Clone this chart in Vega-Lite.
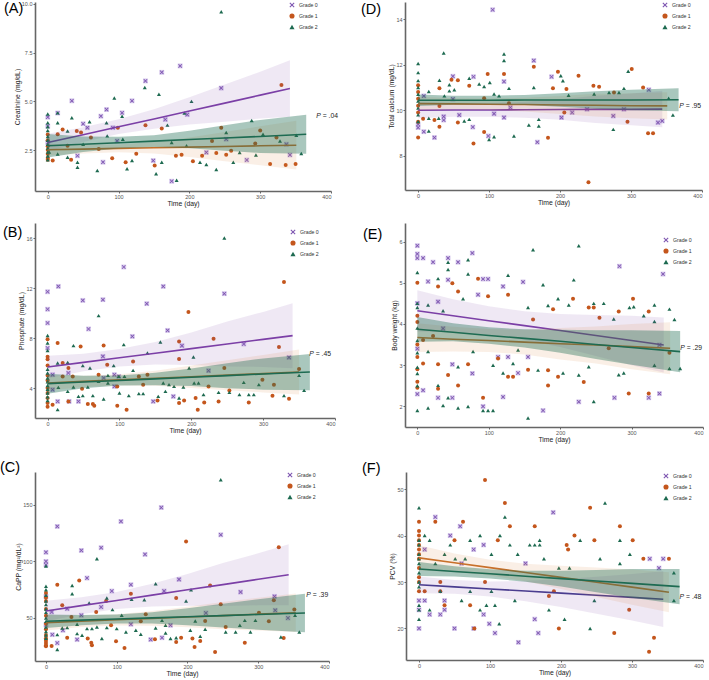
{
"$schema":"https://vega.github.io/schema/vega-lite/v6.json",
"padding":{"left":0,"top":1,"right":0,"bottom":0},
"spacing":15,
"resolve":{"scale":{"fill":"independent","shape":"independent"}},
"config":{
 "font":"Liberation Sans",
 "view":{"stroke":null},
 "axis":{"domainColor":"#666","domainWidth":1.6,"tickColor":"#666","tickSize":2,"tickWidth":1,"labelColor":"#555","labelFontSize":5.5,"labelFont":"Liberation Sans","titleFont":"Liberation Sans","titleFontSize":6.8,"titleFontWeight":"normal","titleColor":"#222","grid":false,"labelPadding":1,"titlePadding":1},
 "legend":{"labelFont":"Liberation Sans","labelFontSize":5.2,"labelColor":"#333","symbolSize":26,"rowPadding":4,"padding":0,"symbolStrokeWidth":0,"labelOffset":4},
 "title":{"font":"Liberation Sans","fontSize":14.5,"fontWeight":"normal","color":"#000","anchor":"start","frame":"group"}
},
"datasets":{
"A":[{"t":0,"v":3.73,"g":0},{"t":0,"v":4.19,"g":0},{"t":0,"v":2.89,"g":0},{"t":34,"v":5.03,"g":0},{"t":14,"v":4.4,"g":0},{"t":56,"v":3.65,"g":0},{"t":75,"v":4.24,"g":0},{"t":83,"v":4.58,"g":0},{"t":78,"v":1.88,"g":0},{"t":92,"v":3.65,"g":0},{"t":98,"v":2.97,"g":0},{"t":105,"v":4.41,"g":0},{"t":119,"v":5.03,"g":0},{"t":138,"v":6.05,"g":0},{"t":161,"v":6.49,"g":0},{"t":166,"v":4.07,"g":0},{"t":187,"v":6.82,"g":0},{"t":175,"v":0.9,"g":0},{"t":197,"v":4.32,"g":0},{"t":245,"v":5.68,"g":0},{"t":224,"v":2.38,"g":0},{"t":281,"v":1.99,"g":0},{"t":337,"v":2.8,"g":0},{"t":342,"v":2.25,"g":0},{"t":42,"v":2.21,"g":0},{"t":50,"v":3.85,"g":0},{"t":149,"v":1.96,"g":0},{"t":252,"v":3.06,"g":0},
{"t":0,"v":3.3,"g":1},{"t":0,"v":3.0,"g":1},{"t":0,"v":2.7,"g":1},{"t":0,"v":2.5,"g":1},{"t":0,"v":2.3,"g":1},{"t":0,"v":2.1,"g":1},{"t":0,"v":2.0,"g":1},{"t":7,"v":1.96,"g":1},{"t":14,"v":3.31,"g":1},{"t":21,"v":3.56,"g":1},{"t":28,"v":2.72,"g":1},{"t":33,"v":2.01,"g":1},{"t":41,"v":3.48,"g":1},{"t":47,"v":3.4,"g":1},{"t":61,"v":3.14,"g":1},{"t":72,"v":2.55,"g":1},{"t":91,"v":2.08,"g":1},{"t":99,"v":3.65,"g":1},{"t":110,"v":1.88,"g":1},{"t":125,"v":2.31,"g":1},{"t":138,"v":3.77,"g":1},{"t":151,"v":1.71,"g":1},{"t":161,"v":3.61,"g":1},{"t":181,"v":2.21,"g":1},{"t":189,"v":2.26,"g":1},{"t":205,"v":1.93,"g":1},{"t":218,"v":2.21,"g":1},{"t":232,"v":2.97,"g":1},{"t":238,"v":2.35,"g":1},{"t":245,"v":3.65,"g":1},{"t":252,"v":2.26,"g":1},{"t":293,"v":2.84,"g":1},{"t":300,"v":3.51,"g":1},{"t":314,"v":1.79,"g":1},{"t":323,"v":3.14,"g":1},{"t":330,"v":5.84,"g":1},{"t":336,"v":1.74,"g":1},{"t":350,"v":1.79,"g":1},{"t":259,"v":2.47,"g":1},
{"t":0,"v":4.35,"g":2},{"t":0,"v":3.9,"g":2},{"t":0,"v":3.7,"g":2},{"t":0,"v":3.5,"g":2},{"t":0,"v":3.2,"g":2},{"t":0,"v":3.0,"g":2},{"t":0,"v":2.8,"g":2},{"t":0,"v":2.6,"g":2},{"t":0,"v":2.4,"g":2},{"t":0,"v":2.2,"g":2},{"t":0,"v":2.0,"g":2},{"t":14,"v":4.41,"g":2},{"t":14,"v":3.9,"g":2},{"t":14,"v":2.3,"g":2},{"t":28,"v":3.48,"g":2},{"t":28,"v":2.13,"g":2},{"t":34,"v":4.16,"g":2},{"t":42,"v":1.88,"g":2},{"t":42,"v":1.62,"g":2},{"t":50,"v":2.8,"g":2},{"t":59,"v":3.95,"g":2},{"t":70,"v":1.45,"g":2},{"t":83,"v":3.9,"g":2},{"t":84,"v":3.23,"g":2},{"t":94,"v":5.17,"g":2},{"t":105,"v":4.24,"g":2},{"t":106,"v":3.06,"g":2},{"t":112,"v":1.54,"g":2},{"t":119,"v":1.96,"g":2},{"t":137,"v":5.71,"g":2},{"t":153,"v":1.28,"g":2},{"t":157,"v":5.37,"g":2},{"t":161,"v":1.88,"g":2},{"t":169,"v":3.78,"g":2},{"t":175,"v":2.89,"g":2},{"t":182,"v":0.95,"g":2},{"t":196,"v":2.72,"g":2},{"t":203,"v":5.0,"g":2},{"t":215,"v":1.88,"g":2},{"t":224,"v":1.76,"g":2},{"t":238,"v":1.5,"g":2},{"t":245,"v":9.6,"g":2},{"t":252,"v":3.4,"g":2},{"t":271,"v":2.38,"g":2},{"t":288,"v":4.02,"g":2},{"t":294,"v":2.25,"g":2},{"t":304,"v":3.31,"g":2},{"t":328,"v":2.97,"g":2},{"t":351,"v":3.26,"g":2},{"t":358,"v":2.33,"g":2},{"t":262,"v":1.88,"g":2},{"t":193,"v":4.4,"g":2},{"t":2,"v":2.4,"g":2}],
"Afit":[{"g":0,"t":0,"f":2.89,"lo":2.44,"hi":3.34},{"g":0,"t":50,"f":3.29,"lo":2.91,"hi":3.67},{"g":0,"t":100,"f":3.7,"lo":3.32,"hi":4.08},{"g":0,"t":150,"f":4.1,"lo":3.6,"hi":4.6},{"g":0,"t":200,"f":4.51,"lo":3.81,"hi":5.21},{"g":0,"t":250,"f":4.91,"lo":3.96,"hi":5.86},{"g":0,"t":300,"f":5.32,"lo":4.12,"hi":6.52},{"g":0,"t":342,"f":5.66,"lo":4.21,"hi":7.11},
{"g":1,"t":0,"f":2.52,"lo":2.22,"hi":2.82},{"g":1,"t":50,"f":2.55,"lo":2.33,"hi":2.77},{"g":1,"t":100,"f":2.59,"lo":2.39,"hi":2.79},{"g":1,"t":150,"f":2.62,"lo":2.32,"hi":2.92},{"g":1,"t":200,"f":2.65,"lo":2.15,"hi":3.15},{"g":1,"t":250,"f":2.68,"lo":1.93,"hi":3.43},{"g":1,"t":300,"f":2.72,"lo":1.72,"hi":3.72},{"g":1,"t":351,"f":2.75,"lo":1.5,"hi":4.0},
{"g":2,"t":0,"f":2.72,"lo":2.12,"hi":3.32},{"g":2,"t":50,"f":2.8,"lo":2.4,"hi":3.2},{"g":2,"t":100,"f":2.88,"lo":2.58,"hi":3.18},{"g":2,"t":150,"f":2.96,"lo":2.66,"hi":3.26},{"g":2,"t":200,"f":3.04,"lo":2.59,"hi":3.49},{"g":2,"t":250,"f":3.12,"lo":2.47,"hi":3.77},{"g":2,"t":300,"f":3.2,"lo":2.35,"hi":4.05},{"g":2,"t":365,"f":3.31,"lo":2.31,"hi":4.31}],
"D":[{"t":0,"v":9.24,"g":0},{"t":0,"v":9.38,"g":0},{"t":8,"v":10.63,"g":0},{"t":8,"v":9.06,"g":0},{"t":23,"v":8.8,"g":0},{"t":36,"v":9.72,"g":0},{"t":36,"v":9.57,"g":0},{"t":49,"v":11.49,"g":0},{"t":49,"v":10.49,"g":0},{"t":58,"v":9.79,"g":0},{"t":78,"v":11.47,"g":0},{"t":77,"v":9.26,"g":0},{"t":99,"v":8.87,"g":0},{"t":107,"v":9.85,"g":0},{"t":121,"v":11.26,"g":0},{"t":121,"v":9.68,"g":0},{"t":130,"v":10.12,"g":0},{"t":105,"v":14.41,"g":0},{"t":163,"v":12.18,"g":0},{"t":168,"v":8.6,"g":0},{"t":188,"v":11.47,"g":0},{"t":202,"v":9.68,"g":0},{"t":217,"v":9.9,"g":0},{"t":275,"v":9.75,"g":0},{"t":325,"v":10.9,"g":0},{"t":338,"v":9.46,"g":0},{"t":344,"v":9.53,"g":0},{"t":290,"v":10.04,"g":0},{"t":238,"v":10.04,"g":0},
{"t":0,"v":11.1,"g":1},{"t":0,"v":10.8,"g":1},{"t":0,"v":10.5,"g":1},{"t":0,"v":10.2,"g":1},{"t":0,"v":9.9,"g":1},{"t":0,"v":9.5,"g":1},{"t":0,"v":8.8,"g":1},{"t":7,"v":9.63,"g":1},{"t":23,"v":9.57,"g":1},{"t":30,"v":10.19,"g":1},{"t":30,"v":10.97,"g":1},{"t":30,"v":9.28,"g":1},{"t":47,"v":11.34,"g":1},{"t":56,"v":11.32,"g":1},{"t":56,"v":9.46,"g":1},{"t":72,"v":11.07,"g":1},{"t":78,"v":8.54,"g":1},{"t":93,"v":10.53,"g":1},{"t":93,"v":9.04,"g":1},{"t":98,"v":11.59,"g":1},{"t":121,"v":11.59,"g":1},{"t":128,"v":10.31,"g":1},{"t":163,"v":11.91,"g":1},{"t":183,"v":8.79,"g":1},{"t":190,"v":10.96,"g":1},{"t":197,"v":11.69,"g":1},{"t":209,"v":10.93,"g":1},{"t":226,"v":11.51,"g":1},{"t":240,"v":6.84,"g":1},{"t":247,"v":11.07,"g":1},{"t":255,"v":11.03,"g":1},{"t":276,"v":10.78,"g":1},{"t":295,"v":9.49,"g":1},{"t":301,"v":11.81,"g":1},{"t":317,"v":11.0,"g":1},{"t":324,"v":8.99,"g":1},{"t":331,"v":8.99,"g":1},{"t":206,"v":9.9,"g":1},
{"t":0,"v":12.05,"g":2},{"t":0,"v":11.65,"g":2},{"t":0,"v":11.3,"g":2},{"t":0,"v":11.0,"g":2},{"t":0,"v":10.7,"g":2},{"t":0,"v":10.4,"g":2},{"t":0,"v":10.1,"g":2},{"t":0,"v":9.8,"g":2},{"t":0,"v":9.5,"g":2},{"t":15,"v":10.82,"g":2},{"t":15,"v":9.65,"g":2},{"t":15,"v":9.09,"g":2},{"t":29,"v":9.65,"g":2},{"t":30,"v":11.32,"g":2},{"t":36,"v":12.51,"g":2},{"t":37,"v":10.63,"g":2},{"t":44,"v":11.12,"g":2},{"t":44,"v":10.85,"g":2},{"t":51,"v":10.9,"g":2},{"t":65,"v":9.53,"g":2},{"t":72,"v":11.4,"g":2},{"t":72,"v":9.6,"g":2},{"t":86,"v":11.15,"g":2},{"t":93,"v":11.04,"g":2},{"t":101,"v":11.22,"g":2},{"t":107,"v":8.84,"g":2},{"t":107,"v":10.71,"g":2},{"t":100,"v":8.72,"g":2},{"t":114,"v":10.63,"g":2},{"t":121,"v":12.47,"g":2},{"t":121,"v":12.18,"g":2},{"t":128,"v":10.96,"g":2},{"t":135,"v":8.87,"g":2},{"t":156,"v":9.35,"g":2},{"t":163,"v":11.0,"g":2},{"t":170,"v":9.31,"g":2},{"t":170,"v":9.6,"g":2},{"t":201,"v":11.51,"g":2},{"t":204,"v":11.29,"g":2},{"t":212,"v":10.66,"g":2},{"t":248,"v":10.71,"g":2},{"t":269,"v":10.78,"g":2},{"t":275,"v":9.16,"g":2},{"t":283,"v":10.78,"g":2},{"t":290,"v":10.96,"g":2},{"t":296,"v":11.71,"g":2},{"t":353,"v":10.53,"g":2},{"t":359,"v":9.79,"g":2}],
"Dfit":[{"g":0,"t":0,"f":10.0,"lo":9.65,"hi":10.35},{"g":0,"t":50,"f":10.01,"lo":9.71,"hi":10.31},{"g":0,"t":100,"f":10.01,"lo":9.71,"hi":10.31},{"g":0,"t":150,"f":10.02,"lo":9.67,"hi":10.37},{"g":0,"t":200,"f":10.03,"lo":9.58,"hi":10.48},{"g":0,"t":250,"f":10.04,"lo":9.44,"hi":10.64},{"g":0,"t":300,"f":10.04,"lo":9.34,"hi":10.74},{"g":0,"t":344,"f":10.05,"lo":9.25,"hi":10.85},
{"g":1,"t":0,"f":10.29,"lo":9.99,"hi":10.59},{"g":1,"t":50,"f":10.28,"lo":10.03,"hi":10.53},{"g":1,"t":100,"f":10.26,"lo":10.01,"hi":10.51},{"g":1,"t":150,"f":10.25,"lo":9.95,"hi":10.55},{"g":1,"t":200,"f":10.23,"lo":9.83,"hi":10.63},{"g":1,"t":250,"f":10.22,"lo":9.72,"hi":10.72},{"g":1,"t":300,"f":10.2,"lo":9.65,"hi":10.75},{"g":1,"t":351,"f":10.19,"lo":9.59,"hi":10.79},
{"g":2,"t":0,"f":10.44,"lo":10.19,"hi":10.69},{"g":2,"t":50,"f":10.44,"lo":10.24,"hi":10.64},{"g":2,"t":100,"f":10.44,"lo":10.24,"hi":10.64},{"g":2,"t":150,"f":10.45,"lo":10.23,"hi":10.67},{"g":2,"t":200,"f":10.45,"lo":10.15,"hi":10.75},{"g":2,"t":250,"f":10.45,"lo":10.07,"hi":10.83},{"g":2,"t":300,"f":10.45,"lo":10.0,"hi":10.9},{"g":2,"t":367,"f":10.46,"lo":9.96,"hi":10.96}],
"B":[{"t":0,"v":11.7,"g":0},{"t":0,"v":10.3,"g":0},{"t":0,"v":9.2,"g":0},{"t":0,"v":7.2,"g":0},{"t":7,"v":5.07,"g":0},{"t":14,"v":2.93,"g":0},{"t":15,"v":12.13,"g":0},{"t":29,"v":5.2,"g":0},{"t":30,"v":2.93,"g":0},{"t":43,"v":2.93,"g":0},{"t":49,"v":11.01,"g":0},{"t":57,"v":8.72,"g":0},{"t":77,"v":11.07,"g":0},{"t":77,"v":6.53,"g":0},{"t":78,"v":4.8,"g":0},{"t":93,"v":4.13,"g":0},{"t":93,"v":5.07,"g":0},{"t":106,"v":13.68,"g":0},{"t":99,"v":4.93,"g":0},{"t":118,"v":8.13,"g":0},{"t":138,"v":10.75,"g":0},{"t":147,"v":2.93,"g":0},{"t":161,"v":12.13,"g":0},{"t":167,"v":8.61,"g":0},{"t":175,"v":3.33,"g":0},{"t":187,"v":7.39,"g":0},{"t":224,"v":5.39,"g":0},{"t":246,"v":11.55,"g":0},{"t":273,"v":7.52,"g":0},{"t":336,"v":6.45,"g":0},{"t":7,"v":3.87,"g":0},
{"t":0,"v":7.9,"g":1},{"t":0,"v":6.5,"g":1},{"t":0,"v":6.3,"g":1},{"t":0,"v":5.8,"g":1},{"t":0,"v":5.0,"g":1},{"t":0,"v":4.6,"g":1},{"t":0,"v":4.0,"g":1},{"t":0,"v":3.6,"g":1},{"t":0,"v":3.2,"g":1},{"t":0,"v":2.8,"g":1},{"t":0,"v":2.5,"g":1},{"t":7,"v":2.67,"g":1},{"t":14,"v":7.6,"g":1},{"t":21,"v":6.0,"g":1},{"t":21,"v":4.93,"g":1},{"t":29,"v":5.6,"g":1},{"t":29,"v":2.93,"g":1},{"t":35,"v":4.93,"g":1},{"t":46,"v":7.33,"g":1},{"t":48,"v":3.95,"g":1},{"t":56,"v":2.72,"g":1},{"t":63,"v":2.72,"g":1},{"t":65,"v":2.59,"g":1},{"t":71,"v":5.07,"g":1},{"t":78,"v":7.41,"g":1},{"t":83,"v":5.87,"g":1},{"t":97,"v":2.59,"g":1},{"t":97,"v":4.13,"g":1},{"t":110,"v":2.27,"g":1},{"t":119,"v":6.13,"g":1},{"t":127,"v":4.93,"g":1},{"t":133,"v":4.27,"g":1},{"t":139,"v":5.07,"g":1},{"t":153,"v":3.01,"g":1},{"t":183,"v":7.73,"g":1},{"t":183,"v":2.8,"g":1},{"t":183,"v":6.32,"g":1},{"t":190,"v":3.01,"g":1},{"t":196,"v":10.08,"g":1},{"t":206,"v":3.2,"g":1},{"t":209,"v":2.27,"g":1},{"t":218,"v":2.85,"g":1},{"t":224,"v":4.13,"g":1},{"t":231,"v":7.95,"g":1},{"t":238,"v":2.93,"g":1},{"t":246,"v":5.6,"g":1},{"t":253,"v":3.81,"g":1},{"t":280,"v":2.85,"g":1},{"t":299,"v":4.67,"g":1},{"t":313,"v":3.39,"g":1},{"t":315,"v":4.27,"g":1},{"t":322,"v":7.28,"g":1},{"t":329,"v":12.48,"g":1},{"t":336,"v":3.15,"g":1},{"t":350,"v":5.52,"g":1},
{"t":0,"v":8.2,"g":2},{"t":0,"v":7.6,"g":2},{"t":0,"v":7.0,"g":2},{"t":0,"v":5.5,"g":2},{"t":0,"v":5.2,"g":2},{"t":0,"v":4.8,"g":2},{"t":0,"v":4.5,"g":2},{"t":0,"v":4.2,"g":2},{"t":0,"v":3.9,"g":2},{"t":0,"v":3.6,"g":2},{"t":0,"v":3.3,"g":2},{"t":0,"v":3.0,"g":2},{"t":14,"v":2.27,"g":2},{"t":14,"v":6.0,"g":2},{"t":15,"v":4.05,"g":2},{"t":28,"v":6.05,"g":2},{"t":28,"v":3.73,"g":2},{"t":36,"v":7.39,"g":2},{"t":36,"v":4.08,"g":2},{"t":43,"v":3.33,"g":2},{"t":49,"v":5.79,"g":2},{"t":49,"v":3.39,"g":2},{"t":56,"v":4.08,"g":2},{"t":59,"v":5.6,"g":2},{"t":63,"v":3.39,"g":2},{"t":71,"v":9.79,"g":2},{"t":71,"v":4.53,"g":2},{"t":78,"v":3.12,"g":2},{"t":84,"v":5.01,"g":2},{"t":84,"v":4.4,"g":2},{"t":92,"v":5.79,"g":2},{"t":99,"v":4.93,"g":2},{"t":100,"v":3.6,"g":2},{"t":106,"v":7.47,"g":2},{"t":107,"v":4.93,"g":2},{"t":113,"v":3.39,"g":2},{"t":119,"v":5.41,"g":2},{"t":127,"v":3.55,"g":2},{"t":133,"v":3.55,"g":2},{"t":139,"v":6.8,"g":2},{"t":154,"v":3.33,"g":2},{"t":157,"v":7.68,"g":2},{"t":161,"v":4.4,"g":2},{"t":164,"v":3.73,"g":2},{"t":169,"v":4.27,"g":2},{"t":176,"v":4.13,"g":2},{"t":183,"v":3.2,"g":2},{"t":189,"v":4.08,"g":2},{"t":197,"v":5.6,"g":2},{"t":203,"v":6.48,"g":2},{"t":204,"v":4.4,"g":2},{"t":210,"v":4.4,"g":2},{"t":217,"v":3.47,"g":2},{"t":238,"v":3.65,"g":2},{"t":246,"v":16.0,"g":2},{"t":253,"v":3.65,"g":2},{"t":267,"v":3.47,"g":2},{"t":273,"v":4.45,"g":2},{"t":280,"v":3.47,"g":2},{"t":287,"v":3.47,"g":2},{"t":294,"v":4.27,"g":2},{"t":329,"v":3.39,"g":2},{"t":350,"v":5.01,"g":2},{"t":357,"v":3.81,"g":2}],
"Bfit":[{"g":0,"t":0,"f":5.68,"lo":4.78,"hi":6.58},{"g":0,"t":50,"f":6.05,"lo":5.35,"hi":6.75},{"g":0,"t":100,"f":6.42,"lo":5.72,"hi":7.12},{"g":0,"t":150,"f":6.78,"lo":5.88,"hi":7.68},{"g":0,"t":200,"f":7.15,"lo":5.85,"hi":8.45},{"g":0,"t":250,"f":7.52,"lo":5.72,"hi":9.32},{"g":0,"t":300,"f":7.89,"lo":5.69,"hi":10.09},{"g":0,"t":341,"f":8.19,"lo":5.59,"hi":10.79},
{"g":1,"t":0,"f":4.4,"lo":3.8,"hi":5.0},{"g":1,"t":50,"f":4.53,"lo":4.08,"hi":4.98},{"g":1,"t":100,"f":4.65,"lo":4.2,"hi":5.1},{"g":1,"t":150,"f":4.78,"lo":4.18,"hi":5.38},{"g":1,"t":200,"f":4.9,"lo":4.0,"hi":5.8},{"g":1,"t":250,"f":5.03,"lo":3.83,"hi":6.23},{"g":1,"t":300,"f":5.15,"lo":3.65,"hi":6.65},{"g":1,"t":350,"f":5.28,"lo":3.48,"hi":7.08},
{"g":2,"t":0,"f":4.35,"lo":3.55,"hi":5.15},{"g":2,"t":50,"f":4.48,"lo":3.98,"hi":4.98},{"g":2,"t":100,"f":4.6,"lo":4.2,"hi":5.0},{"g":2,"t":150,"f":4.73,"lo":4.23,"hi":5.23},{"g":2,"t":200,"f":4.86,"lo":4.16,"hi":5.56},{"g":2,"t":250,"f":4.99,"lo":3.99,"hi":5.99},{"g":2,"t":300,"f":5.12,"lo":3.87,"hi":6.37},{"g":2,"t":365,"f":5.28,"lo":3.83,"hi":6.73}],
"E":[{"t":0,"v":5.9,"g":0},{"t":0,"v":5.7,"g":0},{"t":0,"v":5.6,"g":0},{"t":0,"v":4.5,"g":0},{"t":0,"v":3.4,"g":0},{"t":0,"v":2.3,"g":0},{"t":8,"v":2.39,"g":0},{"t":8,"v":5.6,"g":0},{"t":15,"v":5.03,"g":0},{"t":22,"v":5.5,"g":0},{"t":29,"v":4.54,"g":0},{"t":29,"v":2.21,"g":0},{"t":36,"v":3.89,"g":0},{"t":43,"v":5.6,"g":0},{"t":43,"v":5.07,"g":0},{"t":49,"v":2.21,"g":0},{"t":49,"v":3.02,"g":0},{"t":57,"v":5.5,"g":0},{"t":77,"v":5.72,"g":0},{"t":77,"v":2.8,"g":0},{"t":85,"v":4.71,"g":0},{"t":92,"v":5.09,"g":0},{"t":92,"v":2.0,"g":0},{"t":99,"v":5.09,"g":0},{"t":113,"v":3.2,"g":0},{"t":120,"v":2.23,"g":0},{"t":120,"v":4.91,"g":0},{"t":127,"v":3.2,"g":0},{"t":141,"v":2.81,"g":0},{"t":148,"v":5.02,"g":0},{"t":155,"v":3.2,"g":0},{"t":176,"v":1.9,"g":0},{"t":226,"v":2.11,"g":0},{"t":276,"v":2.21,"g":0},{"t":283,"v":5.4,"g":0},{"t":324,"v":2.21,"g":0},{"t":339,"v":2.31,"g":0},{"t":344,"v":5.21,"g":0},{"t":339,"v":3.49,"g":0},
{"t":0,"v":5.0,"g":1},{"t":0,"v":4.2,"g":1},{"t":0,"v":4.05,"g":1},{"t":0,"v":3.5,"g":1},{"t":0,"v":3.2,"g":1},{"t":0,"v":2.9,"g":1},{"t":0,"v":2.6,"g":1},{"t":0,"v":2.45,"g":1},{"t":8,"v":3.04,"g":1},{"t":8,"v":3.61,"g":1},{"t":22,"v":3.71,"g":1},{"t":29,"v":4.91,"g":1},{"t":29,"v":3.02,"g":1},{"t":29,"v":2.43,"g":1},{"t":43,"v":2.76,"g":1},{"t":49,"v":4.99,"g":1},{"t":57,"v":4.79,"g":1},{"t":57,"v":2.51,"g":1},{"t":71,"v":3.02,"g":1},{"t":85,"v":5.1,"g":1},{"t":92,"v":2.21,"g":1},{"t":99,"v":4.67,"g":1},{"t":113,"v":3.16,"g":1},{"t":127,"v":4.71,"g":1},{"t":127,"v":2.72,"g":1},{"t":134,"v":2.72,"g":1},{"t":155,"v":2.89,"g":1},{"t":162,"v":4.11,"g":1},{"t":183,"v":2.51,"g":1},{"t":183,"v":2.88,"g":1},{"t":190,"v":4.36,"g":1},{"t":197,"v":2.72,"g":1},{"t":218,"v":4.61,"g":1},{"t":233,"v":2.59,"g":1},{"t":240,"v":4.4,"g":1},{"t":247,"v":4.4,"g":1},{"t":255,"v":4.15,"g":1},{"t":268,"v":3.41,"g":1},{"t":282,"v":4.3,"g":1},{"t":296,"v":2.31,"g":1},{"t":302,"v":4.61,"g":1},{"t":324,"v":4.3,"g":1},{"t":324,"v":2.31,"g":1},{"t":353,"v":3.3,"g":1},
{"t":0,"v":5.25,"g":2},{"t":0,"v":4.5,"g":2},{"t":0,"v":4.4,"g":2},{"t":0,"v":3.9,"g":2},{"t":0,"v":3.6,"g":2},{"t":0,"v":3.3,"g":2},{"t":0,"v":2.95,"g":2},{"t":0,"v":2.8,"g":2},{"t":0,"v":2.5,"g":2},{"t":0,"v":1.9,"g":2},{"t":15,"v":1.96,"g":2},{"t":15,"v":4.46,"g":2},{"t":15,"v":3.33,"g":2},{"t":29,"v":2.51,"g":2},{"t":29,"v":5.1,"g":2},{"t":36,"v":2.02,"g":2},{"t":36,"v":4.32,"g":2},{"t":43,"v":5.32,"g":2},{"t":43,"v":5.5,"g":2},{"t":43,"v":2.21,"g":2},{"t":57,"v":1.96,"g":2},{"t":57,"v":2.96,"g":2},{"t":64,"v":4.61,"g":2},{"t":71,"v":5.56,"g":2},{"t":71,"v":5.21,"g":2},{"t":71,"v":2.0,"g":2},{"t":78,"v":3.33,"g":2},{"t":92,"v":1.9,"g":2},{"t":99,"v":1.9,"g":2},{"t":106,"v":1.9,"g":2},{"t":106,"v":3.0,"g":2},{"t":120,"v":2.81,"g":2},{"t":127,"v":5.18,"g":2},{"t":134,"v":3.04,"g":2},{"t":141,"v":3.37,"g":2},{"t":155,"v":4.4,"g":2},{"t":155,"v":1.72,"g":2},{"t":162,"v":5.8,"g":2},{"t":169,"v":2.88,"g":2},{"t":176,"v":4.95,"g":2},{"t":183,"v":4.45,"g":2},{"t":197,"v":4.61,"g":2},{"t":204,"v":2.81,"g":2},{"t":212,"v":4.46,"g":2},{"t":219,"v":5.07,"g":2},{"t":226,"v":5.9,"g":2},{"t":226,"v":2.76,"g":2},{"t":240,"v":2.96,"g":2},{"t":247,"v":4.5,"g":2},{"t":247,"v":2.12,"g":2},{"t":261,"v":4.5,"g":2},{"t":275,"v":4.12,"g":2},{"t":282,"v":2.77,"g":2},{"t":289,"v":2.81,"g":2},{"t":297,"v":4.4,"g":2},{"t":303,"v":4.42,"g":2},{"t":317,"v":4.2,"g":2},{"t":332,"v":4.46,"g":2},{"t":332,"v":4.06,"g":2},{"t":332,"v":3.0,"g":2},{"t":353,"v":4.36,"g":2},{"t":353,"v":2.92,"g":2},{"t":360,"v":4.11,"g":2},{"t":368,"v":2.92,"g":2}],
"Efit":[{"g":0,"t":0,"f":4.32,"lo":3.82,"hi":4.82},{"g":0,"t":50,"f":4.2,"lo":3.8,"hi":4.6},{"g":0,"t":100,"f":4.08,"lo":3.73,"hi":4.43},{"g":0,"t":150,"f":3.96,"lo":3.61,"hi":4.31},{"g":0,"t":200,"f":3.84,"lo":3.44,"hi":4.24},{"g":0,"t":250,"f":3.72,"lo":3.22,"hi":4.22},{"g":0,"t":300,"f":3.6,"lo":3.0,"hi":4.2},{"g":0,"t":345,"f":3.49,"lo":2.82,"hi":4.16},
{"g":1,"t":0,"f":3.67,"lo":3.32,"hi":4.02},{"g":1,"t":50,"f":3.63,"lo":3.33,"hi":3.93},{"g":1,"t":100,"f":3.6,"lo":3.32,"hi":3.88},{"g":1,"t":150,"f":3.56,"lo":3.26,"hi":3.86},{"g":1,"t":200,"f":3.52,"lo":3.14,"hi":3.9},{"g":1,"t":250,"f":3.49,"lo":3.04,"hi":3.94},{"g":1,"t":300,"f":3.45,"lo":2.9,"hi":4.0},{"g":1,"t":354,"f":3.41,"lo":2.78,"hi":4.04},
{"g":2,"t":0,"f":3.87,"lo":3.57,"hi":4.17},{"g":2,"t":50,"f":3.8,"lo":3.58,"hi":4.02},{"g":2,"t":100,"f":3.72,"lo":3.52,"hi":3.92},{"g":2,"t":150,"f":3.65,"lo":3.43,"hi":3.87},{"g":2,"t":200,"f":3.58,"lo":3.3,"hi":3.86},{"g":2,"t":250,"f":3.5,"lo":3.15,"hi":3.85},{"g":2,"t":300,"f":3.43,"lo":3.01,"hi":3.85},{"g":2,"t":368,"f":3.33,"lo":2.83,"hi":3.83}],
"C":[{"t":0,"v":108,"g":0},{"t":0,"v":100,"g":0},{"t":0,"v":97,"g":0},{"t":0,"v":69,"g":0},{"t":0,"v":44,"g":0},{"t":8,"v":55.3,"g":0},{"t":9,"v":35.3,"g":0},{"t":16,"v":27.9,"g":0},{"t":16,"v":130.9,"g":0},{"t":24,"v":39.1,"g":0},{"t":30,"v":58.2,"g":0},{"t":44,"v":30.9,"g":0},{"t":50,"v":109.7,"g":0},{"t":50,"v":52.4,"g":0},{"t":58,"v":85.3,"g":0},{"t":78,"v":112.1,"g":0},{"t":78,"v":59.7,"g":0},{"t":93,"v":73.8,"g":0},{"t":106,"v":135.3,"g":0},{"t":120,"v":79.4,"g":0},{"t":120,"v":44.4,"g":0},{"t":140,"v":106.2,"g":0},{"t":148,"v":30.9,"g":0},{"t":163,"v":147.6,"g":0},{"t":164,"v":32.6,"g":0},{"t":167,"v":73.8,"g":0},{"t":176,"v":43.5,"g":0},{"t":188,"v":84.1,"g":0},{"t":226,"v":54.4,"g":0},{"t":247,"v":123.5,"g":0},{"t":275,"v":72.9,"g":0},{"t":324,"v":56.8,"g":0},{"t":342,"v":50.0,"g":0},{"t":323,"v":69.1,"g":0},
{"t":0,"v":72,"g":1},{"t":0,"v":68,"g":1},{"t":0,"v":65,"g":1},{"t":0,"v":58,"g":1},{"t":0,"v":52,"g":1},{"t":0,"v":45,"g":1},{"t":0,"v":40,"g":1},{"t":0,"v":35,"g":1},{"t":0,"v":32,"g":1},{"t":0,"v":30,"g":1},{"t":0,"v":28,"g":1},{"t":0,"v":26,"g":1},{"t":0,"v":25,"g":1},{"t":8,"v":25.3,"g":1},{"t":16,"v":79.4,"g":1},{"t":23,"v":61.2,"g":1},{"t":30,"v":32.6,"g":1},{"t":36,"v":50.9,"g":1},{"t":47,"v":83.2,"g":1},{"t":59,"v":31.8,"g":1},{"t":64,"v":28.2,"g":1},{"t":65,"v":25.9,"g":1},{"t":71,"v":55.3,"g":1},{"t":85,"v":65.0,"g":1},{"t":92,"v":43.5,"g":1},{"t":99,"v":29.4,"g":1},{"t":111,"v":23.5,"g":1},{"t":120,"v":71.5,"g":1},{"t":134,"v":47.1,"g":1},{"t":141,"v":53.2,"g":1},{"t":154,"v":31.2,"g":1},{"t":184,"v":67.6,"g":1},{"t":184,"v":28.8,"g":1},{"t":191,"v":32.6,"g":1},{"t":198,"v":117.6,"g":1},{"t":207,"v":31.8,"g":1},{"t":210,"v":24.4,"g":1},{"t":218,"v":29.7,"g":1},{"t":225,"v":47.4,"g":1},{"t":232,"v":78.8,"g":1},{"t":239,"v":20.0,"g":1},{"t":247,"v":62.1,"g":1},{"t":254,"v":42.1,"g":1},{"t":281,"v":28.2,"g":1},{"t":301,"v":54.7,"g":1},{"t":315,"v":47.1,"g":1},{"t":322,"v":65.6,"g":1},{"t":329,"v":112.6,"g":1},{"t":336,"v":32.4,"g":1},{"t":351,"v":57.4,"g":1},
{"t":0,"v":96,"g":2},{"t":0,"v":78,"g":2},{"t":0,"v":75,"g":2},{"t":0,"v":70,"g":2},{"t":0,"v":65,"g":2},{"t":0,"v":62,"g":2},{"t":0,"v":58,"g":2},{"t":0,"v":55,"g":2},{"t":0,"v":50,"g":2},{"t":0,"v":47,"g":2},{"t":0,"v":42,"g":2},{"t":0,"v":38,"g":2},{"t":0,"v":35,"g":2},{"t":0,"v":32,"g":2},{"t":16,"v":22.1,"g":2},{"t":16,"v":35.3,"g":2},{"t":23,"v":41.2,"g":2},{"t":30,"v":41.5,"g":2},{"t":37,"v":78.8,"g":2},{"t":37,"v":71.5,"g":2},{"t":44,"v":44.4,"g":2},{"t":44,"v":36.2,"g":2},{"t":51,"v":34.7,"g":2},{"t":58,"v":40.6,"g":2},{"t":61,"v":63.2,"g":2},{"t":65,"v":40.6,"g":2},{"t":72,"v":102.4,"g":2},{"t":72,"v":42.1,"g":2},{"t":79,"v":31.8,"g":2},{"t":86,"v":67.6,"g":2},{"t":86,"v":41.5,"g":2},{"t":94,"v":57.4,"g":2},{"t":100,"v":40.6,"g":2},{"t":107,"v":52.4,"g":2},{"t":113,"v":37.6,"g":2},{"t":121,"v":66.5,"g":2},{"t":127,"v":39.1,"g":2},{"t":134,"v":35.6,"g":2},{"t":139,"v":66.2,"g":2},{"t":155,"v":80.3,"g":2},{"t":155,"v":41.2,"g":2},{"t":164,"v":47.9,"g":2},{"t":169,"v":43.5,"g":2},{"t":169,"v":36.8,"g":2},{"t":176,"v":31.8,"g":2},{"t":184,"v":32.6,"g":2},{"t":198,"v":65.0,"g":2},{"t":204,"v":39.1,"g":2},{"t":205,"v":75.0,"g":2},{"t":211,"v":47.4,"g":2},{"t":218,"v":33.8,"g":2},{"t":225,"v":40.0,"g":2},{"t":247,"v":172.1,"g":2},{"t":254,"v":37.6,"g":2},{"t":268,"v":37.6,"g":2},{"t":274,"v":43.5,"g":2},{"t":281,"v":47.9,"g":2},{"t":289,"v":37.6,"g":2},{"t":296,"v":47.9,"g":2},{"t":332,"v":33.2,"g":2},{"t":352,"v":52.4,"g":2},{"t":358,"v":37.6,"g":2}],
"Cfit":[{"g":0,"t":0,"f":56.2,"lo":47.2,"hi":65.2},{"g":0,"t":50,"f":60.9,"lo":53.4,"hi":68.4},{"g":0,"t":100,"f":65.5,"lo":58.0,"hi":73.0},{"g":0,"t":150,"f":70.2,"lo":60.2,"hi":80.2},{"g":0,"t":200,"f":74.9,"lo":60.9,"hi":88.9},{"g":0,"t":250,"f":79.5,"lo":60.5,"hi":98.5},{"g":0,"t":300,"f":84.2,"lo":61.2,"hi":107.2},{"g":0,"t":343,"f":88.2,"lo":61.2,"hi":115.2},
{"g":1,"t":0,"f":45.9,"lo":38.9,"hi":52.9},{"g":1,"t":50,"f":47.1,"lo":42.1,"hi":52.1},{"g":1,"t":100,"f":48.4,"lo":43.4,"hi":53.4},{"g":1,"t":150,"f":49.6,"lo":43.1,"hi":56.1},{"g":1,"t":200,"f":50.9,"lo":41.9,"hi":59.9},{"g":1,"t":250,"f":52.1,"lo":40.1,"hi":64.1},{"g":1,"t":300,"f":53.4,"lo":38.9,"hi":67.9},{"g":1,"t":353,"f":54.7,"lo":37.7,"hi":71.7},
{"g":2,"t":0,"f":47.1,"lo":41.1,"hi":53.1},{"g":2,"t":50,"f":48.1,"lo":43.6,"hi":52.6},{"g":2,"t":100,"f":49.1,"lo":45.1,"hi":53.1},{"g":2,"t":150,"f":50.1,"lo":45.1,"hi":55.1},{"g":2,"t":200,"f":51.1,"lo":43.6,"hi":58.6},{"g":2,"t":250,"f":52.1,"lo":41.6,"hi":62.6},{"g":2,"t":300,"f":53.1,"lo":39.6,"hi":66.6},{"g":2,"t":366,"f":54.4,"lo":37.4,"hi":71.4}],
"F":[{"t":0,"v":26,"g":0},{"t":0,"v":24,"g":0},{"t":0,"v":20,"g":0},{"t":8,"v":37,"g":0},{"t":8,"v":26,"g":0},{"t":15,"v":23,"g":0},{"t":23,"v":44,"g":0},{"t":30,"v":23,"g":0},{"t":36,"v":24,"g":0},{"t":36,"v":26,"g":0},{"t":44,"v":40,"g":0},{"t":50,"v":20,"g":0},{"t":58,"v":42,"g":0},{"t":77,"v":20,"g":0},{"t":77,"v":37,"g":0},{"t":91,"v":38,"g":0},{"t":91,"v":23,"g":0},{"t":99,"v":21,"g":0},{"t":107,"v":19,"g":0},{"t":140,"v":17,"g":0},{"t":163,"v":22,"g":0},{"t":168,"v":19,"g":0},{"t":189,"v":45,"g":0},{"t":325,"v":35,"g":0},{"t":338,"v":33,"g":0},{"t":344,"v":35,"g":0},{"t":150,"v":34,"g":0},{"t":60,"v":34,"g":0},
{"t":0,"v":43,"g":1},{"t":0,"v":41,"g":1},{"t":0,"v":40,"g":1},{"t":0,"v":39,"g":1},{"t":0,"v":38,"g":1},{"t":0,"v":37,"g":1},{"t":0,"v":36,"g":1},{"t":0,"v":35,"g":1},{"t":0,"v":33,"g":1},{"t":0,"v":31,"g":1},{"t":0,"v":30,"g":1},{"t":0,"v":28,"g":1},{"t":8,"v":28,"g":1},{"t":23,"v":43,"g":1},{"t":30,"v":28,"g":1},{"t":30,"v":30,"g":1},{"t":36,"v":25,"g":1},{"t":50,"v":39,"g":1},{"t":62,"v":43,"g":1},{"t":72,"v":25,"g":1},{"t":78,"v":20,"g":1},{"t":93,"v":52,"g":1},{"t":93,"v":30,"g":1},{"t":111,"v":39,"g":1},{"t":121,"v":47,"g":1},{"t":128,"v":42,"g":1},{"t":163,"v":42,"g":1},{"t":183,"v":27,"g":1},{"t":190,"v":28,"g":1},{"t":197,"v":20,"g":1},{"t":208,"v":38,"g":1},{"t":210,"v":37,"g":1},{"t":219,"v":40,"g":1},{"t":241,"v":46,"g":1},{"t":247,"v":39,"g":1},{"t":275,"v":19,"g":1},{"t":283,"v":42,"g":1},{"t":296,"v":24,"g":1},{"t":301,"v":39,"g":1},{"t":316,"v":35,"g":1},{"t":324,"v":15,"g":1},{"t":331,"v":18,"g":1},{"t":352,"v":35,"g":1},
{"t":0,"v":46,"g":2},{"t":0,"v":39,"g":2},{"t":0,"v":38,"g":2},{"t":0,"v":36,"g":2},{"t":0,"v":35,"g":2},{"t":0,"v":34,"g":2},{"t":0,"v":32,"g":2},{"t":0,"v":30,"g":2},{"t":0,"v":29,"g":2},{"t":0,"v":25,"g":2},{"t":0,"v":24,"g":2},{"t":0,"v":22,"g":2},{"t":8,"v":40,"g":2},{"t":15,"v":24,"g":2},{"t":15,"v":39,"g":2},{"t":23,"v":34,"g":2},{"t":30,"v":28,"g":2},{"t":36,"v":36,"g":2},{"t":44,"v":38,"g":2},{"t":51,"v":35,"g":2},{"t":60,"v":26,"g":2},{"t":65,"v":35,"g":2},{"t":72,"v":39,"g":2},{"t":72,"v":28,"g":2},{"t":86,"v":40,"g":2},{"t":86,"v":24,"g":2},{"t":95,"v":25,"g":2},{"t":102,"v":36,"g":2},{"t":102,"v":28,"g":2},{"t":107,"v":25,"g":2},{"t":113,"v":21,"g":2},{"t":114,"v":40,"g":2},{"t":121,"v":44,"g":2},{"t":128,"v":38,"g":2},{"t":135,"v":26,"g":2},{"t":139,"v":36,"g":2},{"t":156,"v":38,"g":2},{"t":163,"v":38,"g":2},{"t":170,"v":39,"g":2},{"t":170,"v":38,"g":2},{"t":176,"v":35,"g":2},{"t":183,"v":24,"g":2},{"t":197,"v":33,"g":2},{"t":205,"v":22,"g":2},{"t":212,"v":33,"g":2},{"t":227,"v":39,"g":2},{"t":241,"v":20,"g":2},{"t":247,"v":26,"g":2},{"t":255,"v":35,"g":2},{"t":262,"v":47,"g":2},{"t":283,"v":39,"g":2},{"t":283,"v":34,"g":2},{"t":297,"v":36,"g":2},{"t":359,"v":32,"g":2},{"t":359,"v":26,"g":2}],
"Ffit":[{"g":0,"t":0,"f":29.4,"lo":27.6,"hi":31.2},{"g":0,"t":50,"f":28.95,"lo":27.45,"hi":30.45},{"g":0,"t":100,"f":28.5,"lo":26.9,"hi":30.1},{"g":0,"t":150,"f":28.05,"lo":25.85,"hi":30.25},{"g":0,"t":200,"f":27.6,"lo":24.6,"hi":30.6},{"g":0,"t":250,"f":27.15,"lo":23.15,"hi":31.15},{"g":0,"t":300,"f":26.7,"lo":21.7,"hi":31.7},{"g":0,"t":344,"f":26.3,"lo":20.3,"hi":32.3},
{"g":1,"t":0,"f":35.2,"lo":32.5,"hi":37.9},{"g":1,"t":50,"f":34.15,"lo":32.15,"hi":36.15},{"g":1,"t":100,"f":33.1,"lo":31.4,"hi":34.8},{"g":1,"t":150,"f":32.05,"lo":30.15,"hi":33.95},{"g":1,"t":200,"f":31.0,"lo":28.5,"hi":33.5},{"g":1,"t":250,"f":29.95,"lo":26.75,"hi":33.15},{"g":1,"t":300,"f":28.9,"lo":25.1,"hi":32.7},{"g":1,"t":352,"f":27.8,"lo":23.5,"hi":32.1},
{"g":2,"t":0,"f":32.8,"lo":31.3,"hi":34.3},{"g":2,"t":50,"f":32.28,"lo":31.18,"hi":33.38},{"g":2,"t":100,"f":31.77,"lo":30.77,"hi":32.77},{"g":2,"t":150,"f":31.25,"lo":30.05,"hi":32.45},{"g":2,"t":200,"f":30.73,"lo":29.03,"hi":32.43},{"g":2,"t":250,"f":30.21,"lo":27.81,"hi":32.61},{"g":2,"t":300,"f":29.7,"lo":26.6,"hi":32.8},{"g":2,"t":367,"f":29.0,"lo":25.2,"hi":32.8}]
},
"vconcat":[
{"hconcat":[
{"width":296,"height":189,"title":{"text":"(A)","dx":-31,"offset":-15},
 "layer":[
 {"data":{"name":"A"},"transform":[{"filter":"datum.g==0"}],"mark":{"type":"square","size":24,"color":"#d8cbed","opacity":1},
  "encoding":{"x":{"field":"t","type":"quantitative","scale":{"domain":[-18,400],"nice":false,"zero":false},"axis":{"title":"Time (day)","values":[0,100,200,300,400]}},
   "y":{"field":"v","type":"quantitative","scale":{"domain":[0.4,10.1],"nice":false,"zero":false},"axis":{"title":"Creatinine (mg/dL)","values":[2.5,5,7.5,10],"format":".1f"}}}},
 {"data":{"name":"A"},"mark":{"type":"point","filled":true,"size":16,"opacity":1},
  "encoding":{"x":{"field":"t","type":"quantitative"},"y":{"field":"v","type":"quantitative"},
   "fill":{"field":"g","type":"nominal","scale":{"domain":[0,1,2],"range":["#7d55b0","#c4561c","#1d6a50"]},"legend":{"title":null,"orient":"none","legendX":254,"legendY":0,"labelExpr":"'Grade ' + datum.label"}},
   "shape":{"field":"g","type":"nominal","scale":{"domain":[0,1,2],"range":["M-1,-0.7L-0.7,-1L0,-0.3L0.7,-1L1,-0.7L0.3,0L1,0.7L0.7,1L0,0.3L-0.7,1L-1,0.7L-0.3,0Z","circle","triangle-up"]},"legend":{"title":null}}}},
 {"data":{"name":"Afit"},"transform":[{"filter":"datum.g==0"}],"mark":{"type":"area","color":"#7b3fa6","opacity":0.12},"encoding":{"x":{"field":"t","type":"quantitative"},"y":{"field":"lo","type":"quantitative"},"y2":{"field":"hi"}}},
 {"data":{"name":"Afit"},"transform":[{"filter":"datum.g==0"}],"mark":{"type":"line","color":"#7b3fa6","strokeWidth":1.6},"encoding":{"x":{"field":"t","type":"quantitative"},"y":{"field":"f","type":"quantitative"}}},
 {"data":{"name":"Afit"},"transform":[{"filter":"datum.g==1"}],"mark":{"type":"area","color":"#d2782e","opacity":0.12},"encoding":{"x":{"field":"t","type":"quantitative"},"y":{"field":"lo","type":"quantitative"},"y2":{"field":"hi"}}},
 {"data":{"name":"Afit"},"transform":[{"filter":"datum.g==1"}],"mark":{"type":"line","color":"#c8702a","strokeWidth":1.6},"encoding":{"x":{"field":"t","type":"quantitative"},"y":{"field":"f","type":"quantitative"}}},
 {"data":{"name":"Afit"},"transform":[{"filter":"datum.g==2"}],"mark":{"type":"area","color":"#1e6b52","opacity":0.38},"encoding":{"x":{"field":"t","type":"quantitative"},"y":{"field":"lo","type":"quantitative"},"y2":{"field":"hi"}}},
 {"data":{"name":"Afit"},"transform":[{"filter":"datum.g==2"}],"mark":{"type":"line","color":"#1e6b52","strokeWidth":1.6},"encoding":{"x":{"field":"t","type":"quantitative"},"y":{"field":"f","type":"quantitative"}}},
 {"data":{"values":[{"t":379,"v":4.24,"lab":"= .04"}]},"mark":{"type":"text","text":"P","fontStyle":"italic","fontSize":6.8,"align":"left","color":"#222"},"encoding":{"x":{"field":"t","type":"quantitative"},"y":{"field":"v","type":"quantitative"}}},
 {"data":{"values":[{"t":379,"v":4.24,"lab":"= .04"}]},"mark":{"type":"text","fontSize":6.8,"align":"left","dx":6.5,"color":"#222"},"encoding":{"x":{"field":"t","type":"quantitative"},"y":{"field":"v","type":"quantitative"},"text":{"field":"lab"}}}
 ]},
{"width":297,"height":188,"title":{"text":"(D)","dx":-44,"offset":-15.5},
 "layer":[
 {"data":{"name":"D"},"transform":[{"filter":"datum.g==0"}],"mark":{"type":"square","size":24,"color":"#d8cbed","opacity":1},
  "encoding":{"x":{"field":"t","type":"quantitative","scale":{"domain":[-18.5,400],"nice":false,"zero":false},"axis":{"title":"Time (day)","values":[0,100,200,300,400]}},
   "y":{"field":"v","type":"quantitative","scale":{"domain":[6.5,14.75],"nice":false,"zero":false},"axis":{"title":"Total calcium (mg/dL)","values":[8,10,12,14]}}}},
 {"data":{"name":"D"},"mark":{"type":"point","filled":true,"size":16,"opacity":1},
  "encoding":{"x":{"field":"t","type":"quantitative"},"y":{"field":"v","type":"quantitative"},
   "fill":{"field":"g","type":"nominal","scale":{"domain":[0,1,2],"range":["#7d55b0","#c4561c","#1d6a50"]},"legend":{"title":null,"orient":"none","legendX":257,"legendY":0,"labelExpr":"'Grade ' + datum.label"}},
   "shape":{"field":"g","type":"nominal","scale":{"domain":[0,1,2],"range":["M-1,-0.7L-0.7,-1L0,-0.3L0.7,-1L1,-0.7L0.3,0L1,0.7L0.7,1L0,0.3L-0.7,1L-1,0.7L-0.3,0Z","circle","triangle-up"]},"legend":{"title":null}}}},
 {"data":{"name":"Dfit"},"transform":[{"filter":"datum.g==0"}],"mark":{"type":"area","color":"#7b3fa6","opacity":0.12},"encoding":{"x":{"field":"t","type":"quantitative"},"y":{"field":"lo","type":"quantitative"},"y2":{"field":"hi"}}},
 {"data":{"name":"Dfit"},"transform":[{"filter":"datum.g==0"}],"mark":{"type":"line","color":"#7b3fa6","strokeWidth":1.6},"encoding":{"x":{"field":"t","type":"quantitative"},"y":{"field":"f","type":"quantitative"}}},
 {"data":{"name":"Dfit"},"transform":[{"filter":"datum.g==1"}],"mark":{"type":"area","color":"#d2782e","opacity":0.12},"encoding":{"x":{"field":"t","type":"quantitative"},"y":{"field":"lo","type":"quantitative"},"y2":{"field":"hi"}}},
 {"data":{"name":"Dfit"},"transform":[{"filter":"datum.g==1"}],"mark":{"type":"line","color":"#c8702a","strokeWidth":1.6},"encoding":{"x":{"field":"t","type":"quantitative"},"y":{"field":"f","type":"quantitative"}}},
 {"data":{"name":"Dfit"},"transform":[{"filter":"datum.g==2"}],"mark":{"type":"area","color":"#1e6b52","opacity":0.38},"encoding":{"x":{"field":"t","type":"quantitative"},"y":{"field":"lo","type":"quantitative"},"y2":{"field":"hi"}}},
 {"data":{"name":"Dfit"},"transform":[{"filter":"datum.g==2"}],"mark":{"type":"line","color":"#1e6b52","strokeWidth":1.6},"encoding":{"x":{"field":"t","type":"quantitative"},"y":{"field":"f","type":"quantitative"}}},
 {"data":{"values":[{"t":368,"v":10.19,"lab":"= .95"}]},"mark":{"type":"text","text":"P","fontStyle":"italic","fontSize":6.8,"align":"left","color":"#222"},"encoding":{"x":{"field":"t","type":"quantitative"},"y":{"field":"v","type":"quantitative"}}},
 {"data":{"values":[{"t":368,"v":10.19,"lab":"= .95"}]},"mark":{"type":"text","fontSize":6.8,"align":"left","dx":6.5,"color":"#222"},"encoding":{"x":{"field":"t","type":"quantitative"},"y":{"field":"v","type":"quantitative"},"text":{"field":"lab"}}}
 ]}
],"spacing":23,"resolve":{"scale":{"fill":"independent","shape":"independent"}}},
{"hconcat":[
{"width":300,"height":195,"title":{"text":"(B)","dx":-32,"offset":-17.5},
 "layer":[
 {"data":{"name":"B"},"transform":[{"filter":"datum.g==0"}],"mark":{"type":"square","size":24,"color":"#d8cbed","opacity":1},
  "encoding":{"x":{"field":"t","type":"quantitative","scale":{"domain":[-17.5,400],"nice":false,"zero":false},"axis":{"title":"Time (day)","values":[0,100,200,300,400]}},
   "y":{"field":"v","type":"quantitative","scale":{"domain":[1.6,17.2],"nice":false,"zero":false},"axis":{"title":"Phosphate (mg/dL)","values":[4,8,12,16]}}}},
 {"data":{"name":"B"},"mark":{"type":"point","filled":true,"size":16,"opacity":1},
  "encoding":{"x":{"field":"t","type":"quantitative"},"y":{"field":"v","type":"quantitative"},
   "fill":{"field":"g","type":"nominal","scale":{"domain":[0,1,2],"range":["#7d55b0","#c4561c","#1d6a50"]},"legend":{"title":null,"orient":"none","legendX":255,"legendY":6,"labelExpr":"'Grade ' + datum.label"}},
   "shape":{"field":"g","type":"nominal","scale":{"domain":[0,1,2],"range":["M-1,-0.7L-0.7,-1L0,-0.3L0.7,-1L1,-0.7L0.3,0L1,0.7L0.7,1L0,0.3L-0.7,1L-1,0.7L-0.3,0Z","circle","triangle-up"]},"legend":{"title":null}}}},
 {"data":{"name":"Bfit"},"transform":[{"filter":"datum.g==0"}],"mark":{"type":"area","color":"#7b3fa6","opacity":0.12},"encoding":{"x":{"field":"t","type":"quantitative"},"y":{"field":"lo","type":"quantitative"},"y2":{"field":"hi"}}},
 {"data":{"name":"Bfit"},"transform":[{"filter":"datum.g==0"}],"mark":{"type":"line","color":"#7b3fa6","strokeWidth":1.6},"encoding":{"x":{"field":"t","type":"quantitative"},"y":{"field":"f","type":"quantitative"}}},
 {"data":{"name":"Bfit"},"transform":[{"filter":"datum.g==1"}],"mark":{"type":"area","color":"#d2782e","opacity":0.12},"encoding":{"x":{"field":"t","type":"quantitative"},"y":{"field":"lo","type":"quantitative"},"y2":{"field":"hi"}}},
 {"data":{"name":"Bfit"},"transform":[{"filter":"datum.g==1"}],"mark":{"type":"line","color":"#c8702a","strokeWidth":1.6},"encoding":{"x":{"field":"t","type":"quantitative"},"y":{"field":"f","type":"quantitative"}}},
 {"data":{"name":"Bfit"},"transform":[{"filter":"datum.g==2"}],"mark":{"type":"area","color":"#1e6b52","opacity":0.38},"encoding":{"x":{"field":"t","type":"quantitative"},"y":{"field":"lo","type":"quantitative"},"y2":{"field":"hi"}}},
 {"data":{"name":"Bfit"},"transform":[{"filter":"datum.g==2"}],"mark":{"type":"line","color":"#1e6b52","strokeWidth":1.6},"encoding":{"x":{"field":"t","type":"quantitative"},"y":{"field":"f","type":"quantitative"}}},
 {"data":{"values":[{"t":364,"v":6.75,"lab":"= .45"}]},"mark":{"type":"text","text":"P","fontStyle":"italic","fontSize":6.8,"align":"left","color":"#222"},"encoding":{"x":{"field":"t","type":"quantitative"},"y":{"field":"v","type":"quantitative"}}},
 {"data":{"values":[{"t":364,"v":6.75,"lab":"= .45"}]},"mark":{"type":"text","fontSize":6.8,"align":"left","dx":6.5,"color":"#222"},"encoding":{"x":{"field":"t","type":"quantitative"},"y":{"field":"v","type":"quantitative"},"text":{"field":"lab"}}}
 ]},
{"width":298,"height":204,"title":{"text":"(E)","dx":-42,"offset":-19.5},
 "layer":[
 {"data":{"name":"E"},"transform":[{"filter":"datum.g==0"}],"mark":{"type":"square","size":24,"color":"#d8cbed","opacity":1},
  "encoding":{"x":{"field":"t","type":"quantitative","scale":{"domain":[-17.3,400],"nice":false,"zero":false},"axis":{"title":"Time (day)","values":[0,100,200,300,400]}},
   "y":{"field":"v","type":"quantitative","scale":{"domain":[1.5,6.45],"nice":false,"zero":false},"axis":{"title":"Body weight (kg)","values":[2,3,4,5,6]}}}},
 {"data":{"name":"E"},"mark":{"type":"point","filled":true,"size":16,"opacity":1},
  "encoding":{"x":{"field":"t","type":"quantitative"},"y":{"field":"v","type":"quantitative"},
   "fill":{"field":"g","type":"nominal","scale":{"domain":[0,1,2],"range":["#7d55b0","#c4561c","#1d6a50"]},"legend":{"title":null,"orient":"none","legendX":258,"legendY":14,"labelExpr":"'Grade ' + datum.label"}},
   "shape":{"field":"g","type":"nominal","scale":{"domain":[0,1,2],"range":["M-1,-0.7L-0.7,-1L0,-0.3L0.7,-1L1,-0.7L0.3,0L1,0.7L0.7,1L0,0.3L-0.7,1L-1,0.7L-0.3,0Z","circle","triangle-up"]},"legend":{"title":null}}}},
 {"data":{"name":"Efit"},"transform":[{"filter":"datum.g==0"}],"mark":{"type":"area","color":"#7b3fa6","opacity":0.12},"encoding":{"x":{"field":"t","type":"quantitative"},"y":{"field":"lo","type":"quantitative"},"y2":{"field":"hi"}}},
 {"data":{"name":"Efit"},"transform":[{"filter":"datum.g==0"}],"mark":{"type":"line","color":"#7b3fa6","strokeWidth":1.6},"encoding":{"x":{"field":"t","type":"quantitative"},"y":{"field":"f","type":"quantitative"}}},
 {"data":{"name":"Efit"},"transform":[{"filter":"datum.g==1"}],"mark":{"type":"area","color":"#d2782e","opacity":0.12},"encoding":{"x":{"field":"t","type":"quantitative"},"y":{"field":"lo","type":"quantitative"},"y2":{"field":"hi"}}},
 {"data":{"name":"Efit"},"transform":[{"filter":"datum.g==1"}],"mark":{"type":"line","color":"#c8702a","strokeWidth":1.6},"encoding":{"x":{"field":"t","type":"quantitative"},"y":{"field":"f","type":"quantitative"}}},
 {"data":{"name":"Efit"},"transform":[{"filter":"datum.g==2"}],"mark":{"type":"area","color":"#1e6b52","opacity":0.38},"encoding":{"x":{"field":"t","type":"quantitative"},"y":{"field":"lo","type":"quantitative"},"y2":{"field":"hi"}}},
 {"data":{"name":"Efit"},"transform":[{"filter":"datum.g==2"}],"mark":{"type":"line","color":"#1e6b52","strokeWidth":1.6},"encoding":{"x":{"field":"t","type":"quantitative"},"y":{"field":"f","type":"quantitative"}}},
 {"data":{"values":[{"t":368,"v":3.41,"lab":"= .29"}]},"mark":{"type":"text","text":"P","fontStyle":"italic","fontSize":6.8,"align":"left","color":"#222"},"encoding":{"x":{"field":"t","type":"quantitative"},"y":{"field":"v","type":"quantitative"}}},
 {"data":{"values":[{"t":368,"v":3.41,"lab":"= .29"}]},"mark":{"type":"text","fontSize":6.8,"align":"left","dx":6.5,"color":"#222"},"encoding":{"x":{"field":"t","type":"quantitative"},"y":{"field":"v","type":"quantitative"},"text":{"field":"lab"}}}
 ]}
],"spacing":27,"resolve":{"scale":{"fill":"independent","shape":"independent"}}},
{"hconcat":[
{"width":294,"height":189,"title":{"text":"(C)","dx":-35,"offset":-3},
 "layer":[
 {"data":{"name":"C"},"transform":[{"filter":"datum.g==0"}],"mark":{"type":"square","size":24,"color":"#d8cbed","opacity":1},
  "encoding":{"x":{"field":"t","type":"quantitative","scale":{"domain":[-15.5,400],"nice":false,"zero":false},"axis":{"title":"Time (day)","values":[0,100,200,300,400]}},
   "y":{"field":"v","type":"quantitative","scale":{"domain":[12,179],"nice":false,"zero":false},"axis":{"title":"CaPP (mg²/dL²)","values":[50,100,150]}}}},
 {"data":{"name":"C"},"mark":{"type":"point","filled":true,"size":16,"opacity":1},
  "encoding":{"x":{"field":"t","type":"quantitative"},"y":{"field":"v","type":"quantitative"},
   "fill":{"field":"g","type":"nominal","scale":{"domain":[0,1,2],"range":["#7d55b0","#c4561c","#1d6a50"]},"legend":{"title":null,"orient":"none","legendX":252,"legendY":0,"labelExpr":"'Grade ' + datum.label"}},
   "shape":{"field":"g","type":"nominal","scale":{"domain":[0,1,2],"range":["M-1,-0.7L-0.7,-1L0,-0.3L0.7,-1L1,-0.7L0.3,0L1,0.7L0.7,1L0,0.3L-0.7,1L-1,0.7L-0.3,0Z","circle","triangle-up"]},"legend":{"title":null}}}},
 {"data":{"name":"Cfit"},"transform":[{"filter":"datum.g==0"}],"mark":{"type":"area","color":"#7b3fa6","opacity":0.12},"encoding":{"x":{"field":"t","type":"quantitative"},"y":{"field":"lo","type":"quantitative"},"y2":{"field":"hi"}}},
 {"data":{"name":"Cfit"},"transform":[{"filter":"datum.g==0"}],"mark":{"type":"line","color":"#7b3fa6","strokeWidth":1.6},"encoding":{"x":{"field":"t","type":"quantitative"},"y":{"field":"f","type":"quantitative"}}},
 {"data":{"name":"Cfit"},"transform":[{"filter":"datum.g==1"}],"mark":{"type":"area","color":"#d2782e","opacity":0.12},"encoding":{"x":{"field":"t","type":"quantitative"},"y":{"field":"lo","type":"quantitative"},"y2":{"field":"hi"}}},
 {"data":{"name":"Cfit"},"transform":[{"filter":"datum.g==1"}],"mark":{"type":"line","color":"#c8702a","strokeWidth":1.6},"encoding":{"x":{"field":"t","type":"quantitative"},"y":{"field":"f","type":"quantitative"}}},
 {"data":{"name":"Cfit"},"transform":[{"filter":"datum.g==2"}],"mark":{"type":"area","color":"#1e6b52","opacity":0.38},"encoding":{"x":{"field":"t","type":"quantitative"},"y":{"field":"lo","type":"quantitative"},"y2":{"field":"hi"}}},
 {"data":{"name":"Cfit"},"transform":[{"filter":"datum.g==2"}],"mark":{"type":"line","color":"#1e6b52","strokeWidth":1.6},"encoding":{"x":{"field":"t","type":"quantitative"},"y":{"field":"f","type":"quantitative"}}},
 {"data":{"values":[{"t":368,"v":70,"lab":"= .39"}]},"mark":{"type":"text","text":"P","fontStyle":"italic","fontSize":6.8,"align":"left","color":"#222"},"encoding":{"x":{"field":"t","type":"quantitative"},"y":{"field":"v","type":"quantitative"}}},
 {"data":{"values":[{"t":368,"v":70,"lab":"= .39"}]},"mark":{"type":"text","fontSize":6.8,"align":"left","dx":6.5,"color":"#222"},"encoding":{"x":{"field":"t","type":"quantitative"},"y":{"field":"v","type":"quantitative"},"text":{"field":"lab"}}}
 ]},
{"width":297,"height":188,"title":{"text":"(F)","dx":-44,"offset":-4},
 "layer":[
 {"data":{"name":"F"},"transform":[{"filter":"datum.g==0"}],"mark":{"type":"square","size":24,"color":"#d8cbed","opacity":1},
  "encoding":{"x":{"field":"t","type":"quantitative","scale":{"domain":[-18.3,400],"nice":false,"zero":false},"axis":{"title":"Time (day)","values":[0,100,200,300,400]}},
   "y":{"field":"v","type":"quantitative","scale":{"domain":[13.2,53.7],"nice":false,"zero":false},"axis":{"title":"PCV (%)","values":[20,30,40,50]}}}},
 {"data":{"name":"F"},"mark":{"type":"point","filled":true,"size":16,"opacity":1},
  "encoding":{"x":{"field":"t","type":"quantitative"},"y":{"field":"v","type":"quantitative"},
   "fill":{"field":"g","type":"nominal","scale":{"domain":[0,1,2],"range":["#7d55b0","#c4561c","#1d6a50"]},"legend":{"title":null,"orient":"none","legendX":257,"legendY":1,"labelExpr":"'Grade ' + datum.label"}},
   "shape":{"field":"g","type":"nominal","scale":{"domain":[0,1,2],"range":["M-1,-0.7L-0.7,-1L0,-0.3L0.7,-1L1,-0.7L0.3,0L1,0.7L0.7,1L0,0.3L-0.7,1L-1,0.7L-0.3,0Z","circle","triangle-up"]},"legend":{"title":null}}}},
 {"data":{"name":"Ffit"},"transform":[{"filter":"datum.g==0"}],"mark":{"type":"area","color":"#7b3fa6","opacity":0.12},"encoding":{"x":{"field":"t","type":"quantitative"},"y":{"field":"lo","type":"quantitative"},"y2":{"field":"hi"}}},
 {"data":{"name":"Ffit"},"transform":[{"filter":"datum.g==0"}],"mark":{"type":"line","color":"#4a3d8f","strokeWidth":1.6},"encoding":{"x":{"field":"t","type":"quantitative"},"y":{"field":"f","type":"quantitative"}}},
 {"data":{"name":"Ffit"},"transform":[{"filter":"datum.g==1"}],"mark":{"type":"area","color":"#d2782e","opacity":0.12},"encoding":{"x":{"field":"t","type":"quantitative"},"y":{"field":"lo","type":"quantitative"},"y2":{"field":"hi"}}},
 {"data":{"name":"Ffit"},"transform":[{"filter":"datum.g==1"}],"mark":{"type":"line","color":"#c8702a","strokeWidth":1.6},"encoding":{"x":{"field":"t","type":"quantitative"},"y":{"field":"f","type":"quantitative"}}},
 {"data":{"name":"Ffit"},"transform":[{"filter":"datum.g==2"}],"mark":{"type":"area","color":"#1e6b52","opacity":0.38},"encoding":{"x":{"field":"t","type":"quantitative"},"y":{"field":"lo","type":"quantitative"},"y2":{"field":"hi"}}},
 {"data":{"name":"Ffit"},"transform":[{"filter":"datum.g==2"}],"mark":{"type":"line","color":"#1e6b52","strokeWidth":1.6},"encoding":{"x":{"field":"t","type":"quantitative"},"y":{"field":"f","type":"quantitative"}}},
 {"data":{"values":[{"t":367,"v":26.8,"lab":"= .48"}]},"mark":{"type":"text","text":"P","fontStyle":"italic","fontSize":6.8,"align":"left","color":"#222"},"encoding":{"x":{"field":"t","type":"quantitative"},"y":{"field":"v","type":"quantitative"}}},
 {"data":{"values":[{"t":367,"v":26.8,"lab":"= .48"}]},"mark":{"type":"text","fontSize":6.8,"align":"left","dx":6.5,"color":"#222"},"encoding":{"x":{"field":"t","type":"quantitative"},"y":{"field":"v","type":"quantitative"},"text":{"field":"lab"}}}
 ]}
],"spacing":32,"resolve":{"scale":{"fill":"independent","shape":"independent"}}}
]
}
